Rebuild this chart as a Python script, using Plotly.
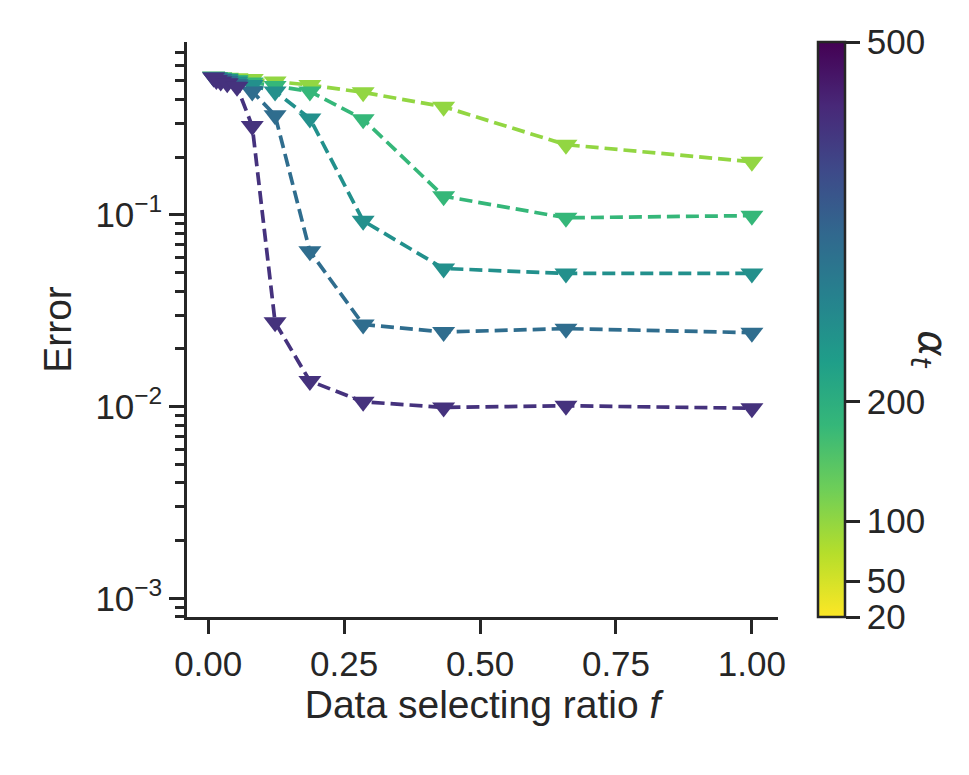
import plotly.graph_objects as go
from plotly.colors import sample_colorscale

# data selecting ratio f (x positions of the markers)
f_vals = [0.01, 0.015, 0.023, 0.035, 0.053, 0.081, 0.123, 0.187, 0.285, 0.433, 0.658, 1.0]

# alpha_t of each curve (sets its colour on the colorbar)
alpha_t = [100, 180, 260, 330, 430]

err_a100 = [0.525, 0.523, 0.520, 0.518, 0.515, 0.510, 0.495, 0.475, 0.435, 0.366, 0.232, 0.189]
err_a180 = [0.525, 0.522, 0.520, 0.515, 0.505, 0.490, 0.470, 0.440, 0.315, 0.125, 0.0965, 0.099]
err_a260 = [0.525, 0.520, 0.515, 0.510, 0.495, 0.475, 0.440, 0.318, 0.093, 0.0525, 0.0495, 0.0495]
err_a330 = [0.520, 0.515, 0.510, 0.500, 0.480, 0.440, 0.330, 0.0645, 0.0268, 0.0245, 0.0255, 0.0243]
err_a430 = [0.520, 0.505, 0.495, 0.485, 0.465, 0.290, 0.0275, 0.0136, 0.0106, 0.0099, 0.0101, 0.0098]
errors = [err_a100, err_a180, err_a260, err_a330, err_a430]

cb_ticks = [20, 50, 100, 200, 500]
cmin, cmax = 20, 500

FONT = "Liberation Sans, Arial, sans-serif"
INK = "#262626"
FS = 35
LABEL_FS = 39

fig = go.Figure()
for i, (a, err) in enumerate(zip(alpha_t, errors)):
    col = sample_colorscale("Viridis_r", [(a - cmin) / (cmax - cmin)])[0]
    fig.add_trace(go.Scatter(
        x=f_vals, y=err,
        mode="lines+markers",
        line=dict(color=col, width=3.7, dash="13px,6px"),
        marker=dict(symbol="triangle-down", size=20,
                    color=[a] * len(f_vals), colorscale="Viridis_r",
                    cmin=cmin, cmax=cmax, line=dict(width=0),
                    showscale=(i == 0),
                    colorbar=dict(
                        x=1.068, xanchor="left", xref="paper", xpad=0,
                        y=0.5, yanchor="middle", len=1.0, lenmode="fraction", ypad=0,
                        thickness=27, outlinewidth=2.5, outlinecolor=INK,
                        tickmode="array", tickvals=cb_ticks,
                        ticks="outside", ticklen=14, tickwidth=2.5, tickcolor=INK,
                        tickfont=dict(family=FONT, size=FS, color=INK),
                    )),
        showlegend=False,
    ))

minor_vals = [m * 10.0 ** e for e in (-4, -3, -2, -1) for m in range(2, 10)]

fig.update_layout(
    width=953, height=759,
    margin=dict(l=179, r=183, t=34, b=150),
    paper_bgcolor="white", plot_bgcolor="white",
    font=dict(family=FONT, size=FS, color=INK),
    xaxis=dict(
        range=[-0.039, 1.048],
        tickmode="array", tickvals=[0, 0.25, 0.5, 0.75, 1.0],
        ticktext=["0.00", "0.25", "0.50", "0.75", "1.00"],
        ticks="outside", ticklen=14, tickwidth=2.5, tickcolor=INK,
        showline=True, linewidth=2.5, linecolor=INK,
        showgrid=False, zeroline=False,
        title=dict(text="Data selecting ratio <i>f</i>", standoff=6,
                   font=dict(size=LABEL_FS)),
    ),
    yaxis=dict(
        type="log", range=[-3.097, -0.099],
        tickmode="array", tickvals=[1e-3, 1e-2, 1e-1],
        ticktext=["10<sup>\u22123</sup>", "10<sup>\u22122</sup>", "10<sup>\u22121</sup>"],
        ticks="outside", ticklen=15, tickwidth=2.5, tickcolor=INK,
        minor=dict(tickmode="array", tickvals=minor_vals, ticks="outside",
                   ticklen=9, tickwidth=2.5, tickcolor=INK, showgrid=False),
        showline=True, linewidth=2.5, linecolor=INK,
        showgrid=False, zeroline=False,
        title=dict(text="Error", standoff=12, font=dict(size=LABEL_FS)),
    ),
    annotations=[dict(
        text="<i>\u03b1<sub>t</sub></i>", xref="paper", yref="paper",
        x=1.257, y=0.466, xanchor="center", yanchor="middle",
        showarrow=False, textangle=90,
        font=dict(family="DejaVu Sans, sans-serif", size=40, color=INK),
    )],
)

fig.write_html("out.html")
